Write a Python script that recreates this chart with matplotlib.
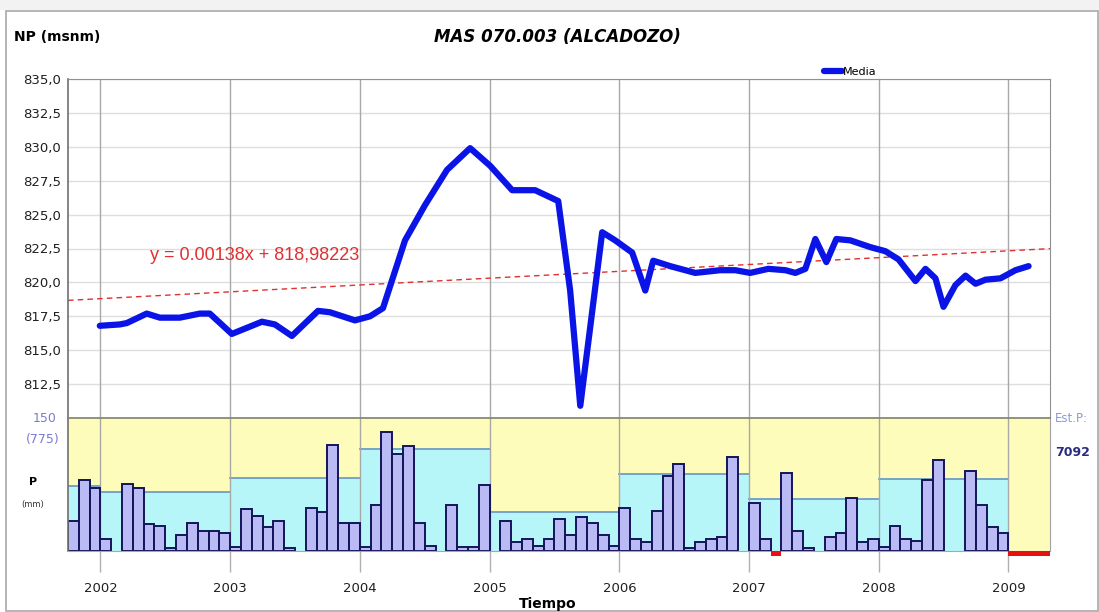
import numpy as np
import matplotlib
matplotlib.use("Agg")
import matplotlib.pyplot as plt
from matplotlib.patches import Rectangle

# ---------------- data ----------------
level_time = [2001.995, 2002.149, 2002.203, 2002.357, 2002.458, 2002.612, 2002.766, 2002.843,
              2003.013, 2003.245, 2003.345, 2003.476, 2003.677, 2003.769, 2003.962, 2004.078,
              2004.178, 2004.348, 2004.502, 2004.672, 2004.850, 2005.004, 2005.174, 2005.351,
              2005.529, 2005.621, 2005.699, 2005.868, 2005.968, 2006.099, 2006.200, 2006.261,
              2006.392, 2006.585, 2006.778, 2006.894, 2007.009, 2007.148, 2007.280, 2007.357,
              2007.434, 2007.511, 2007.596, 2007.673, 2007.781, 2007.935, 2008.051, 2008.152,
              2008.283, 2008.360, 2008.437, 2008.499, 2008.591, 2008.669, 2008.746, 2008.823,
              2008.938, 2009.054, 2009.155]
level_media = [816.8, 816.9, 817.0, 817.7, 817.4, 817.4, 817.7, 817.7,
               816.2, 817.1, 816.9, 816.05, 817.9, 817.8, 817.2, 817.5,
               818.1, 823.1, 825.7, 828.3, 829.9, 828.6, 826.8, 826.8,
               826.0, 819.4, 810.9, 823.7, 823.1, 822.2, 819.4, 821.6,
               821.2, 820.7, 820.9, 820.9, 820.7, 821.0, 820.9, 820.7,
               821.0, 823.2, 821.5, 823.2, 823.1, 822.6, 822.3, 821.7,
               820.1, 821.0, 820.3, 818.2, 819.8, 820.5, 819.9, 820.2,
               820.3, 820.9, 821.2]

trend_slope = 0.00138        # per day
trend_intercept = 818.98223
trend_origin = 2002.36       # decimal year where x = 0 days

precip_start = 2001.75       # October 2001
precip_mm = [34, 80, 71,
             14, 0, 76, 71, 30, 28, 3, 18, 32, 22, 22, 20,
             4, 47, 40, 27, 34, 3, 0, 48, 44, 120, 32, 32,
             4, 52, 134, 109, 118, 32, 6, 0, 52, 4, 4, 74,
             0, 34, 10, 14, 6, 14, 36, 18, 38, 32, 18, 6,
             48, 14, 10, 45, 85, 98, 3, 10, 14, 16, 106, 0,
             54, 14, None, 88, 22, 3, 0, 16, 20, 60, 10, 14,
             4, 28, 14, 11, 80, 103, 0, 0, 90, 52, 27, 20,
             None, None, None, None]

annual_years = [2001, 2002, 2003, 2004, 2005, 2006, 2007, 2008]
annual_mm = [378, 345, 424, 592, 227, 448, 302, 422]

year_ticks = [2002, 2003, 2004, 2005, 2006, 2007, 2008, 2009]
level_ticks = [812.5, 815.0, 817.5, 820.0, 822.5, 825.0, 827.5, 830.0, 832.5, 835.0]
monthly_max = 150
annual_max = 775

# ---------------- figure ----------------
W, H = 1099, 612
fig = plt.figure(figsize=(W / 100, H / 100), dpi=100)
fig.patch.set_facecolor("white")

def fx(px):
    return px / W

def fy(py):
    return 1 - py / H

# outer frame
fig.patches.append(Rectangle((0, fy(10)), 1, 10 / H, transform=fig.transFigure,
                             facecolor="#f2f2f2", edgecolor="none", zorder=-2))
fig.patches.append(Rectangle((fx(6), fy(611)), fx(1098) - fx(6), fy(11) - fy(611),
                             transform=fig.transFigure, facecolor="white",
                             edgecolor="#a8a8a8", linewidth=1.2, zorder=-1))

xmin, xmax = 2001.75, 2009.32
L, R = fx(68), fx(1050)
ax = fig.add_axes([L, fy(418), R - L, fy(79) - fy(418)])
axp = fig.add_axes([L, fy(551), R - L, fy(418) - fy(551)], sharex=ax)

# ---- top panel ----
ax.set_xlim(xmin, xmax)
ax.set_ylim(810, 835)
ax.set_yticks(level_ticks)
ax.set_yticklabels([f"{v:.1f}".replace(".", ",") for v in level_ticks], fontsize=9.5, color="#202020")
ax.tick_params(axis="y", length=0, pad=5)
ax.tick_params(axis="x", length=0, labelbottom=False)
ax.set_xticks(year_ticks)
for v in level_ticks:
    ax.axhline(v, color="#dedede", linewidth=1, zorder=0)
for yv in year_ticks:
    ax.axvline(yv, color="#a8a8a8", linewidth=1, zorder=0)
for s in ["top", "right"]:
    ax.spines[s].set_color("#909090")
ax.spines["left"].set_color("#707070")
ax.spines["left"].set_linewidth(1.2)
ax.spines["bottom"].set_visible(False)

tx = np.array([xmin, xmax])
ty = trend_slope * (tx - trend_origin) * 365.25 + trend_intercept
ax.plot(tx, ty, color="#e03030", linestyle=(0, (4, 3)), linewidth=1.0, zorder=2)
ax.text(2003.19, 822.0, "y = 0.00138x + 818,98223", color="#e03030",
        fontsize=13, family="Liberation Sans", ha="center", va="center")

ax.plot(level_time, level_media, color="#0a14e6", linewidth=4.5, solid_joinstyle="round",
        solid_capstyle="round", label="Media", zorder=3)
leg = ax.legend(loc="lower left", bbox_to_anchor=(fx(822) / (R - L) - L / (R - L), 1.0),
                frameon=False, fontsize=8, handlelength=1.6, handletextpad=0.1,
                borderpad=0, borderaxespad=0.2)

# ---- precipitation panel ----
axp.set_facecolor("#fefcba")
axp.set_ylim(0, monthly_max)
axp.set_yticks([])
scale = monthly_max / annual_max
for yr, tot in zip(annual_years, annual_mm):
    x0 = max(yr, xmin)
    axp.add_patch(Rectangle((x0, 0), yr + 1 - x0, tot * scale, facecolor="#b6f6f8",
                            edgecolor="none", zorder=0.5))
    axp.plot([x0, yr + 1], [tot * scale] * 2, color="#6e9cc8", linewidth=1.3, zorder=0.6)

px_pos, px_val, miss_pos = [], [], []
for i, v in enumerate(precip_mm):
    x = precip_start + i / 12
    if v is None:
        miss_pos.append(x)
    elif v > 0:
        px_pos.append(x)
        px_val.append(v)
axp.bar(px_pos, px_val, width=1 / 12, align="edge", color="#babaf4",
        edgecolor="#14145a", linewidth=1.4, zorder=2)
miss_w = [min(1 / 12, xmax - m) for m in miss_pos]
axp.bar(miss_pos, [5.5] * len(miss_pos), bottom=-5.5, width=miss_w, align="edge",
        color="#e81010", edgecolor="none", clip_on=False, zorder=3)

for yv in year_ticks:
    axp.axvline(yv, color="#a8a8a8", linewidth=1, zorder=1)
axp.set_xticks(year_ticks)
axp.set_xticklabels([str(y) for y in year_ticks], fontsize=9.5, color="#202020")
axp.tick_params(axis="x", length=15, color="#b0b0b0", width=1, pad=7)
axp.spines["top"].set_color("#8a8a70")
axp.spines["top"].set_linewidth(1.3)
axp.spines["left"].set_color("#707070")
axp.spines["left"].set_linewidth(1.2)
axp.spines["right"].set_color("#a0a0a0")
axp.spines["bottom"].set_color("#a8a8a8")
axp.set_xlim(xmin, xmax)

# ---- texts ----
fig.text(fx(14), fy(37), "NP (msnm)", fontsize=10, fontweight="bold", ha="left", va="center")
fig.text(fx(557), fy(37), "MAS 070.003 (ALCADOZO)", fontsize=12, fontweight="bold",
         style="italic", ha="center", va="center")
fig.text(fx(57), fy(418), str(monthly_max), fontsize=9, color="#7b7bd0", ha="right", va="center")
fig.text(fx(60), fy(440), f"({annual_max})", fontsize=9, color="#7b7bd0", ha="right", va="center")
fig.text(fx(33), fy(482), "P", fontsize=8, fontweight="bold", ha="center", va="center")
fig.text(fx(33), fy(505), "(mm)", fontsize=6, ha="center", va="center", color="#303030")
fig.text(fx(1055), fy(418), "Est.P:", fontsize=8.5, color="#8a9ad8", ha="left", va="center")
fig.text(fx(1055), fy(452), "7092", fontsize=9, color="#2a2a80", ha="left", va="center",
         fontweight="bold")
fig.text(fx(548), fy(604), "Tiempo", fontsize=10, fontweight="bold", ha="center", va="center")

fig.savefig("out.png", dpi=100)
